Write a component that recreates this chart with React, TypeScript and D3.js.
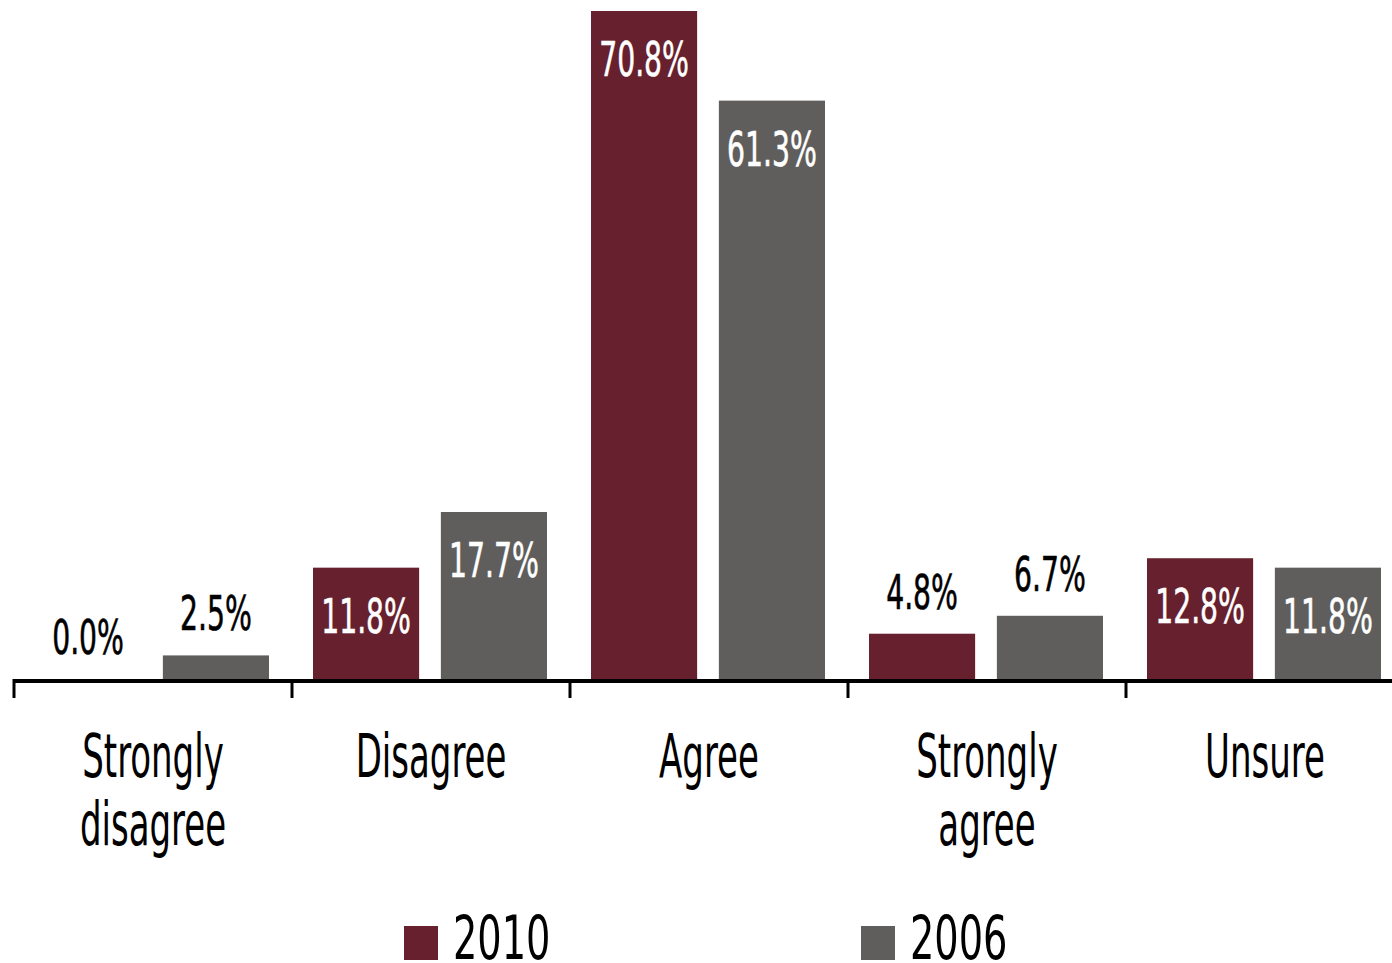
import React, { useEffect, useRef } from "react";
import * as d3 from "d3";

const categories: string[][] = [
  ["Strongly", "disagree"],
  ["Disagree"],
  ["Agree"],
  ["Strongly", "agree"],
  ["Unsure"],
];
const seriesNames = ["2010", "2006"];
const values2010 = [0.0, 11.8, 70.8, 4.8, 12.8];
const values2006 = [2.5, 17.7, 61.3, 6.7, 11.8];
const colors = ["#67202D", "#5F5E5C"];

const W = 1392;
const H = 963;
const FONT = "'DejaVu Sans Condensed', 'Liberation Sans Narrow', sans-serif";

export default function App() {
  const ref = useRef<SVGSVGElement>(null);

  useEffect(() => {
    document.body.style.margin = "0";
    document.body.style.overflow = "hidden";
    const svg = d3.select(ref.current);
    svg.selectAll("*").remove();

    const baseY = 679;
    const keys = categories.map((c) => c.join(" "));
    const x0 = d3.scaleBand<string>().domain(keys).range([14, 14 + 5 * 278]).paddingInner(0).paddingOuter(0);
    const x1 = d3.scaleBand<string>().domain(seriesNames).range([21, 255]).paddingInner(0.17).paddingOuter(0);
    const y = d3.scaleLinear().domain([0, 70.8]).range([baseY, 11]);

    const data = keys.map((k, i) => ({ key: k, vals: [values2010[i], values2006[i]] }));

    const g = svg.append("g");
    data.forEach((d) => {
      d.vals.forEach((v, si) => {
        const bx = (x0(d.key) as number) + (x1(seriesNames[si]) as number);
        const bw = x1.bandwidth();
        const top = y(v);
        if (v > 0) {
          g.append("rect")
            .attr("x", bx)
            .attr("y", top)
            .attr("width", bw)
            .attr("height", baseY - top)
            .attr("fill", colors[si]);
        }
        const inside = v >= 10;
        const ty = inside ? top + 65 : top - 25;
        g.append("text")
          .attr("transform", `translate(${bx + bw / 2},${ty}) scale(0.655,1)`)
          .attr("text-anchor", "middle")
          .attr("font-family", FONT)
          .attr("font-size", 48)
          .attr("fill", inside ? "#ffffff" : "#000000")
          .attr("stroke", inside ? "#ffffff" : "#000000")
          .attr("stroke-width", 0.6)
          .text(v.toFixed(1) + "%");
      });
    });

    // axis line
    svg.append("line")
      .attr("x1", 14).attr("x2", W)
      .attr("y1", baseY + 2).attr("y2", baseY + 2)
      .attr("stroke", "#000").attr("stroke-width", 4);
    keys.forEach((k) => {
      const tx = x0(k) as number;
      svg.append("line")
        .attr("x1", tx).attr("x2", tx)
        .attr("y1", baseY).attr("y2", 698)
        .attr("stroke", "#000").attr("stroke-width", 3);
    });

    // category labels
    data.forEach((d, i) => {
      const cx = (x0(d.key) as number) + x0.bandwidth() / 2;
      categories[i].forEach((line, li) => {
        svg.append("text")
          .attr("transform", `translate(${cx},${777 + li * 68}) scale(0.63,1)`)
          .attr("text-anchor", "middle")
          .attr("font-family", FONT)
          .attr("font-size", 60)
          .attr("fill", "#000")
          .text(line);
      });
    });

    // legend
    const legendX = [404, 861];
    seriesNames.forEach((s, i) => {
      svg.append("rect")
        .attr("x", legendX[i]).attr("y", 926)
        .attr("width", 34).attr("height", 34)
        .attr("fill", colors[i]);
      svg.append("text")
        .attr("transform", `translate(${legendX[i] + 49},959) scale(0.71,1)`)
        .attr("font-family", FONT)
        .attr("font-size", 60)
        .attr("fill", "#000")
        .text(s);
    });
  }, []);

  return <svg ref={ref} width={W} height={H} style={{ display: "block", background: "#fff" }} />;
}
